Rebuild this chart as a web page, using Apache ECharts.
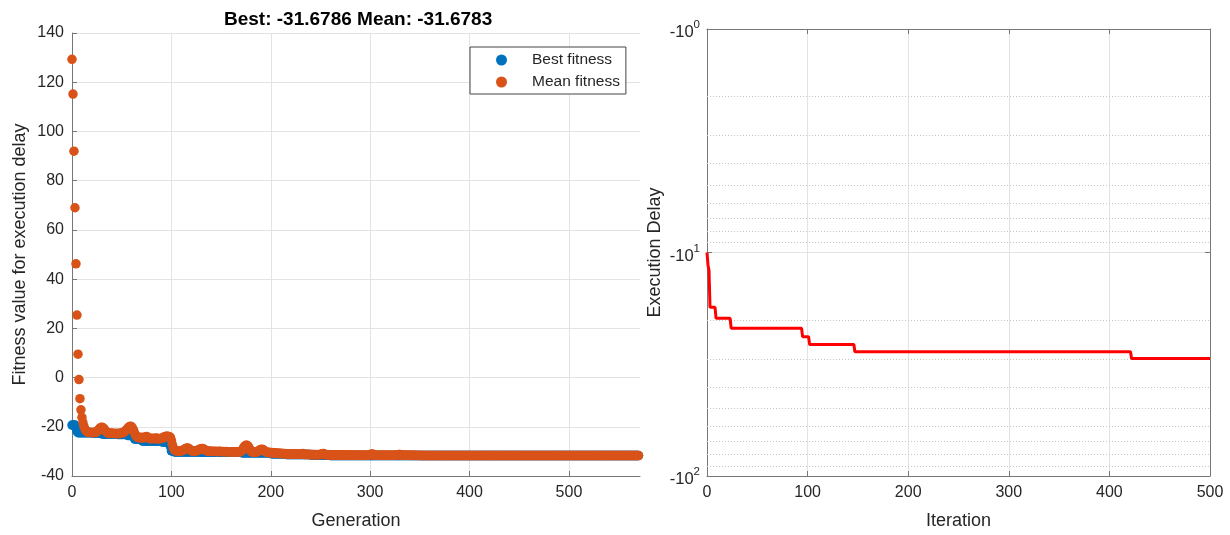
<!DOCTYPE html>
<html><head><meta charset="utf-8">
<script src="https://cdn.jsdelivr.net/npm/echarts@6/dist/echarts.min.js"></script>
<style>html,body{margin:0;padding:0;background:#fff}#c{width:1230px;height:535px}</style>
</head><body><div id="c"></div>
<script>
// ---- Left panel: GA fitness per generation (index = generation) ----
const bestFitness = [
-19.3,-19.3,-19.3,-19.3,-20.5,-21.8,-22.4,-22.4,-22.4,-22.4,
-22.4,-22.4,-22.4,-22.4,-22.4,-22.4,-22.4,-22.4,-22.4,-22.4,
-22.4,-22.5,-22.5,-22.5,-22.5,-22.5,-22.5,-22.5,-22.5,-22.5,
-22.9,-22.9,-22.9,-22.9,-22.9,-22.9,-22.9,-22.9,-22.9,-22.9,
-22.9,-22.9,-22.9,-22.9,-22.9,-22.9,-23.1,-23.1,-23.1,-23.1,
-23.1,-23.1,-23.1,-23.1,-23.1,-23.1,-23.5,-23.5,-23.5,-23.5,
-23.5,-23.5,-23.5,-25.0,-25.0,-25.0,-25.0,-25.0,-25.0,-25.0,
-25.0,-25.8,-25.8,-25.8,-25.8,-25.8,-25.8,-25.8,-25.8,-25.8,
-25.8,-25.8,-25.8,-25.8,-25.8,-25.8,-25.8,-25.8,-25.8,-25.8,
-25.8,-26.2,-26.2,-26.2,-26.2,-26.2,-26.2,-26.2,-26.2,-28.0,
-29.8,-29.8,-29.8,-30.2,-30.2,-30.2,-30.2,-30.2,-30.2,-30.2,
-30.2,-30.2,-30.2,-30.2,-30.2,-30.2,-30.2,-30.2,-30.2,-30.2,
-30.2,-30.2,-30.2,-30.2,-30.2,-30.2,-30.2,-30.2,-30.2,-30.2,
-30.2,-30.4,-30.4,-30.4,-30.4,-30.4,-30.4,-30.4,-30.4,-30.4,
-30.4,-30.4,-30.4,-30.4,-30.4,-30.4,-30.4,-30.4,-30.4,-30.4,
-30.4,-30.4,-30.4,-30.4,-30.4,-30.4,-30.4,-30.4,-30.4,-30.4,
-30.4,-30.4,-30.4,-30.4,-30.4,-30.4,-30.4,-30.4,-30.4,-30.4,
-30.4,-30.6,-30.6,-30.6,-30.6,-30.6,-30.6,-30.6,-30.6,-30.6,
-30.6,-30.6,-30.6,-30.6,-30.6,-30.6,-30.6,-30.6,-30.6,-30.6,
-30.6,-30.6,-30.6,-30.6,-30.6,-30.6,-30.6,-30.6,-30.6,-30.6,
-30.6,-31.0,-31.0,-31.0,-31.0,-31.0,-31.0,-31.0,-31.0,-31.0,
-31.0,-31.0,-31.0,-31.0,-31.0,-31.0,-31.3,-31.3,-31.3,-31.3,
-31.3,-31.3,-31.3,-31.3,-31.3,-31.3,-31.3,-31.3,-31.3,-31.3,
-31.3,-31.3,-31.3,-31.3,-31.3,-31.3,-31.3,-31.3,-31.3,-31.3,
-31.3,-31.5,-31.5,-31.5,-31.5,-31.5,-31.5,-31.5,-31.5,-31.5,
-31.5,-31.5,-31.5,-31.5,-31.5,-31.5,-31.5,-31.5,-31.5,-31.5,
-31.68,-31.68,-31.68,-31.68,-31.68,-31.68,-31.68,-31.68,-31.68,-31.68,
-31.68,-31.68,-31.68,-31.68,-31.68,-31.68,-31.68,-31.68,-31.68,-31.68,
-31.68,-31.68,-31.68,-31.68,-31.68,-31.68,-31.68,-31.68,-31.68,-31.68,
-31.68,-31.68,-31.68,-31.68,-31.68,-31.68,-31.68,-31.68,-31.68,-31.68,
-31.68,-31.68,-31.68,-31.68,-31.68,-31.68,-31.68,-31.68,-31.68,-31.68,
-31.68,-31.68,-31.68,-31.68,-31.68,-31.68,-31.68,-31.68,-31.68,-31.68,
-31.68,-31.68,-31.68,-31.68,-31.68,-31.68,-31.68,-31.68,-31.68,-31.68,
-31.68,-31.68,-31.68,-31.68,-31.68,-31.68,-31.68,-31.68,-31.68,-31.68,
-31.68,-31.68,-31.68,-31.68,-31.68,-31.68,-31.68,-31.68,-31.68,-31.68,
-31.68,-31.68,-31.68,-31.68,-31.68,-31.68,-31.68,-31.68,-31.68,-31.68,
-31.68,-31.68,-31.68,-31.68,-31.68,-31.68,-31.68,-31.68,-31.68,-31.68,
-31.68,-31.68,-31.68,-31.68,-31.68,-31.68,-31.68,-31.68,-31.68,-31.68,
-31.68,-31.68,-31.68,-31.68,-31.68,-31.68,-31.68,-31.68,-31.68,-31.68,
-31.68,-31.68,-31.68,-31.68,-31.68,-31.68,-31.68,-31.68,-31.68,-31.68,
-31.68,-31.68,-31.68,-31.68,-31.68,-31.68,-31.68,-31.68,-31.68,-31.68,
-31.68,-31.68,-31.68,-31.68,-31.68,-31.68,-31.68,-31.68,-31.68,-31.68,
-31.68,-31.68,-31.68,-31.68,-31.68,-31.68,-31.68,-31.68,-31.68,-31.68,
-31.68,-31.68,-31.68,-31.68,-31.68,-31.68,-31.68,-31.68,-31.68,-31.68,
-31.68,-31.68,-31.68,-31.68,-31.68,-31.68,-31.68,-31.68,-31.68,-31.68,
-31.68,-31.68,-31.68,-31.68,-31.68,-31.68,-31.68,-31.68,-31.68,-31.68,
-31.68,-31.68,-31.68,-31.68,-31.68,-31.68,-31.68,-31.68,-31.68,-31.68,
-31.68,-31.68,-31.68,-31.68,-31.68,-31.68,-31.68,-31.68,-31.68,-31.68,
-31.68,-31.68,-31.68,-31.68,-31.68,-31.68,-31.68,-31.68,-31.68,-31.68,
-31.68,-31.68,-31.68,-31.68,-31.68,-31.68,-31.68,-31.68,-31.68,-31.68,
-31.68,-31.68,-31.68,-31.68,-31.68,-31.68,-31.68,-31.68,-31.68,-31.68,
-31.68,-31.68,-31.68,-31.68,-31.68,-31.68,-31.68,-31.68,-31.68,-31.68,
-31.68,-31.68,-31.68,-31.68,-31.68,-31.68,-31.68,-31.68,-31.68,-31.68,
-31.68,-31.68,-31.68,-31.68,-31.68,-31.68,-31.68,-31.68,-31.68,-31.68,
-31.68,-31.68,-31.68,-31.68,-31.68,-31.68,-31.68,-31.68,-31.68,-31.68,
-31.68,-31.68,-31.68,-31.68,-31.68,-31.68,-31.68,-31.68,-31.68,-31.68,
-31.68,-31.68,-31.68,-31.68,-31.68,-31.68,-31.68,-31.68,-31.68,-31.68,
-31.68
];
const meanFitness = [
129.3,115.2,92.0,69.0,46.2,25.4,9.5,-0.8,-8.6,-13.1,
-16.2,-18.3,-19.8,-20.9,-21.6,-22.0,-22.2,-22.3,-22.3,-22.2,
-22.3,-22.4,-22.3,-22.2,-22.3,-22.0,-21.6,-21.0,-20.6,-20.3,
-20.2,-20.3,-20.7,-21.3,-21.9,-22.3,-22.5,-22.6,-22.6,-22.5,
-22.6,-22.7,-22.6,-22.7,-22.8,-22.7,-22.6,-22.8,-22.7,-22.6,
-22.4,-22.5,-22.3,-22.0,-21.6,-21.0,-20.6,-20.2,-19.9,-19.8,
-20.0,-20.6,-21.5,-22.6,-23.5,-24.0,-24.3,-24.4,-24.5,-24.3,
-24.4,-24.6,-24.5,-24.3,-24.1,-24.0,-24.2,-24.5,-24.8,-24.9,
-24.8,-24.7,-24.8,-24.9,-24.7,-24.6,-24.8,-25.0,-24.9,-24.8,
-24.7,-24.6,-24.4,-24.1,-23.9,-23.8,-23.8,-23.9,-24.1,-24.3,
-25.5,-27.2,-28.6,-29.4,-29.7,-29.8,-29.9,-29.8,-29.9,-29.9,
-29.8,-29.7,-29.5,-29.2,-28.9,-28.7,-28.6,-28.7,-29.0,-29.4,
-29.7,-29.8,-29.9,-29.8,-29.7,-29.8,-29.7,-29.5,-29.2,-29.0,
-28.9,-28.8,-28.9,-29.2,-29.5,-29.7,-29.8,-29.9,-29.8,-29.9,
-30.0,-29.9,-30.0,-30.0,-29.9,-30.0,-30.1,-30.0,-29.9,-30.0,
-30.0,-30.1,-30.0,-30.1,-30.1,-30.0,-30.1,-30.1,-30.2,-30.1,
-30.1,-30.2,-30.1,-30.2,-30.2,-30.1,-30.2,-30.1,-30.2,-30.2,
-30.0,-29.6,-29.0,-28.3,-27.8,-27.5,-27.5,-27.8,-28.5,-29.3,
-29.9,-30.2,-30.3,-30.3,-30.2,-30.3,-30.2,-30.0,-29.7,-29.4,
-29.2,-29.1,-29.2,-29.5,-29.9,-30.2,-30.4,-30.5,-30.4,-30.5,
-30.6,-30.5,-30.7,-30.6,-30.7,-30.8,-30.7,-30.8,-30.8,-30.9,
-30.8,-30.9,-30.9,-31.0,-30.9,-31.0,-31.0,-31.1,-31.0,-31.1,
-31.1,-31.0,-31.1,-31.2,-31.1,-31.1,-31.2,-31.2,-31.1,-31.2,
-31.2,-31.0,-30.9,-31.0,-31.2,-31.3,-31.3,-31.2,-31.3,-31.3,
-31.3,-31.4,-31.3,-31.3,-31.4,-31.3,-31.4,-31.4,-31.3,-31.4,
-31.3,-31.1,-31.0,-30.9,-31.1,-31.3,-31.4,-31.4,-31.5,-31.4,
-31.5,-31.4,-31.5,-31.5,-31.4,-31.5,-31.5,-31.5,-31.4,-31.5,
-31.5,-31.5,-31.6,-31.5,-31.5,-31.5,-31.6,-31.5,-31.6,-31.5,
-31.6,-31.5,-31.6,-31.6,-31.5,-31.6,-31.6,-31.5,-31.6,-31.6,
-31.6,-31.6,-31.5,-31.6,-31.6,-31.6,-31.6,-31.6,-31.5,-31.6,
-31.4,-31.2,-31.1,-31.2,-31.4,-31.6,-31.6,-31.6,-31.6,-31.6,
-31.6,-31.6,-31.6,-31.6,-31.6,-31.6,-31.6,-31.6,-31.6,-31.6,
-31.6,-31.6,-31.6,-31.6,-31.6,-31.6,-31.6,-31.5,-31.4,-31.3,
-31.3,-31.4,-31.5,-31.6,-31.6,-31.6,-31.6,-31.6,-31.6,-31.6,
-31.6,-31.6,-31.65,-31.6,-31.6,-31.65,-31.6,-31.65,-31.65,-31.6,
-31.68,-31.68,-31.68,-31.68,-31.68,-31.68,-31.68,-31.68,-31.68,-31.68,
-31.68,-31.68,-31.68,-31.68,-31.68,-31.68,-31.68,-31.68,-31.68,-31.68,
-31.68,-31.68,-31.68,-31.68,-31.68,-31.68,-31.68,-31.68,-31.68,-31.68,
-31.68,-31.68,-31.68,-31.68,-31.68,-31.68,-31.68,-31.68,-31.68,-31.68,
-31.68,-31.68,-31.68,-31.68,-31.68,-31.68,-31.68,-31.68,-31.68,-31.68,
-31.68,-31.68,-31.68,-31.68,-31.68,-31.68,-31.68,-31.68,-31.68,-31.68,
-31.68,-31.68,-31.68,-31.68,-31.68,-31.68,-31.68,-31.68,-31.68,-31.68,
-31.68,-31.68,-31.68,-31.68,-31.68,-31.68,-31.68,-31.68,-31.68,-31.68,
-31.68,-31.68,-31.68,-31.68,-31.68,-31.68,-31.68,-31.68,-31.68,-31.68,
-31.68,-31.68,-31.68,-31.68,-31.68,-31.68,-31.68,-31.68,-31.68,-31.68,
-31.68,-31.68,-31.68,-31.68,-31.68,-31.68,-31.68,-31.68,-31.68,-31.68,
-31.68,-31.68,-31.68,-31.68,-31.68,-31.68,-31.68,-31.68,-31.68,-31.68,
-31.68,-31.68,-31.68,-31.68,-31.68,-31.68,-31.68,-31.68,-31.68,-31.68,
-31.68,-31.68,-31.68,-31.68,-31.68,-31.68,-31.68,-31.68,-31.68,-31.68,
-31.68,-31.68,-31.68,-31.68,-31.68,-31.68,-31.68,-31.68,-31.68,-31.68,
-31.68,-31.68,-31.68,-31.68,-31.68,-31.68,-31.68,-31.68,-31.68,-31.68,
-31.68,-31.68,-31.68,-31.68,-31.68,-31.68,-31.68,-31.68,-31.68,-31.68,
-31.68,-31.68,-31.68,-31.68,-31.68,-31.68,-31.68,-31.68,-31.68,-31.68,
-31.68,-31.68,-31.68,-31.68,-31.68,-31.68,-31.68,-31.68,-31.68,-31.68,
-31.68,-31.68,-31.68,-31.68,-31.68,-31.68,-31.68,-31.68,-31.68,-31.68,
-31.68,-31.68,-31.68,-31.68,-31.68,-31.68,-31.68,-31.68,-31.68,-31.68,
-31.68,-31.68,-31.68,-31.68,-31.68,-31.68,-31.68,-31.68,-31.68,-31.68,
-31.68
];
const seriesNames = ['Best fitness', 'Mean fitness'];
const titleText = 'Best: -31.6786 Mean: -31.6783';

// ---- Right panel: execution delay per iteration (change points) ----
const iterations     = [0, 1, 2, 3, 8, 9, 23, 24, 94, 95, 101, 102, 146, 147, 421, 422, 500];
const executionDelay = [-10, -11.4, -12.0, -17.6, -17.6, -19.7, -19.7, -21.8, -21.8, -23.8, -23.8, -25.8, -25.8, -27.8, -27.8, -29.8, -29.8];
const minorGridValues = [-2, -3, -4, -5, -6, -7, -8, -9, -20, -30, -40, -50, -60, -70, -80, -90];

const FONT = '"Liberation Sans", Arial, Helvetica, sans-serif';
const AX = '#777777';
const TXT = '#262626';
const GRID = '#e3e3e3';

const chart = echarts.init(document.getElementById('c'));
const option = {
  animation: false,
  textStyle: { fontFamily: FONT },
  title: {
    text: titleText, left: 219, top: 5,
    textStyle: { fontSize: 19, fontWeight: 'bold', color: '#000', fontFamily: FONT }
  },
  legend: {
    data: seriesNames, left: 470, top: 47, orient: 'vertical', icon: 'circle',
    itemWidth: 11, itemHeight: 11, itemGap: 6, padding: [5, 6, 4, 26],
    borderColor: '#444', borderWidth: 1, backgroundColor: '#fff',
    textStyle: { fontSize: 15.5, color: TXT, fontFamily: FONT, padding: [0, 0, 0, 20] }
  },
  grid: [
    { left: 72, top: 33, width: 568, height: 446 },
    { left: 707, top: 29, width: 503, height: 450 }
  ],
  xAxis: [
    { gridIndex: 0, type: 'value', min: 0, max: 571.5, interval: 100,
      name: 'Generation', nameLocation: 'middle', nameGap: 36,
      nameTextStyle: { fontSize: 18, color: TXT, fontFamily: FONT },
      axisLine: { show: true, onZero: false, lineStyle: { color: AX } },
      axisTick: { inside: true, length: 5, lineStyle: { color: AX } },
      axisLabel: { fontSize: 16, color: TXT, margin: 9, showMaxLabel: false, fontFamily: FONT },
      splitLine: { show: true, showMaxLine: false, lineStyle: { color: GRID } } },
    { gridIndex: 1, type: 'value', min: 0, max: 500, interval: 100,
      name: 'Iteration', nameLocation: 'middle', nameGap: 36,
      nameTextStyle: { fontSize: 18, color: TXT, fontFamily: FONT },
      axisLine: { show: true, onZero: false, lineStyle: { color: AX } },
      axisTick: { inside: true, length: 5, lineStyle: { color: AX } },
      axisLabel: { fontSize: 16, color: TXT, margin: 9, fontFamily: FONT },
      splitLine: { show: true, lineStyle: { color: GRID } } },
    { gridIndex: 1, type: 'value', min: 0, max: 500, interval: 100, position: 'top',
      axisLine: { show: true, onZero: false, lineStyle: { color: AX } },
      axisTick: { inside: true, length: 5, lineStyle: { color: AX } },
      axisLabel: { show: false }, splitLine: { show: false } }
  ],
  yAxis: [
    { gridIndex: 0, type: 'value', min: -40, max: 140, interval: 20,
      name: 'Fitness value for execution delay', nameLocation: 'middle', nameGap: 43,
      nameTextStyle: { fontSize: 18, color: TXT, fontFamily: FONT },
      axisLine: { show: true, onZero: false, lineStyle: { color: AX } },
      axisTick: { show: true, inside: true, length: 5, lineStyle: { color: AX } },
      axisLabel: { fontSize: 16, color: TXT, margin: 8, fontFamily: FONT },
      splitLine: { show: true, lineStyle: { color: GRID } } },
    { gridIndex: 1, type: 'log', logBase: 10, min: 1, max: 100, inverse: true,
      name: 'Execution Delay', nameLocation: 'middle', nameGap: 43,
      nameTextStyle: { fontSize: 18, color: TXT, fontFamily: FONT },
      axisLine: { show: true, onZero: false, lineStyle: { color: AX } },
      axisTick: { show: true, inside: true, length: 5, lineStyle: { color: AX } },
      axisLabel: {
        margin: 7,
        formatter: v => '{b|-10}{s|' + Math.round(Math.log10(v)) + '}',
        rich: {
          b: { fontSize: 16.5, color: TXT, fontFamily: FONT, padding: [7, 0, 0, 0] },
          s: { fontSize: 11.5, color: TXT, fontFamily: FONT, padding: [0, 0, 8, 0] }
        }
      },
      splitLine: { show: true, lineStyle: { color: GRID } } },
    { gridIndex: 1, type: 'log', logBase: 10, min: 1, max: 100, inverse: true, position: 'right',
      axisLine: { show: true, onZero: false, lineStyle: { color: AX } },
      axisTick: { show: true, inside: true, length: 5, lineStyle: { color: AX } },
      axisLabel: { show: false }, splitLine: { show: false } }
  ],
  series: [
    { name: seriesNames[0], type: 'scatter', xAxisIndex: 0, yAxisIndex: 0, symbolSize: 9.5,
      itemStyle: { color: '#0072BD', opacity: 1 }, z: 2, emphasis: { disabled: true },
      data: bestFitness.map((v, i) => [i, v]) },
    { name: seriesNames[1], type: 'scatter', xAxisIndex: 0, yAxisIndex: 0, symbolSize: 9.5,
      itemStyle: { color: '#D95319', opacity: 1 }, z: 3, emphasis: { disabled: true },
      data: meanFitness.map((v, i) => [i, v]) },
    { type: 'line', xAxisIndex: 1, yAxisIndex: 1, data: [], z: 1, silent: true,
      markLine: { silent: true, symbol: ['none', 'none'], label: { show: false },
        lineStyle: { type: [1, 2], color: '#c4c4c4', width: 1 },
        data: minorGridValues.map(v => ({ yAxis: Math.abs(v) })) } },
    { type: 'line', xAxisIndex: 1, yAxisIndex: 1, showSymbol: false, z: 5,
      lineStyle: { color: '#ff0000', width: 3 }, itemStyle: { color: '#ff0000' },
      data: iterations.map((x, i) => [x, Math.abs(executionDelay[i])]) }
  ]
};
chart.setOption(option);
</script>
</body></html>
